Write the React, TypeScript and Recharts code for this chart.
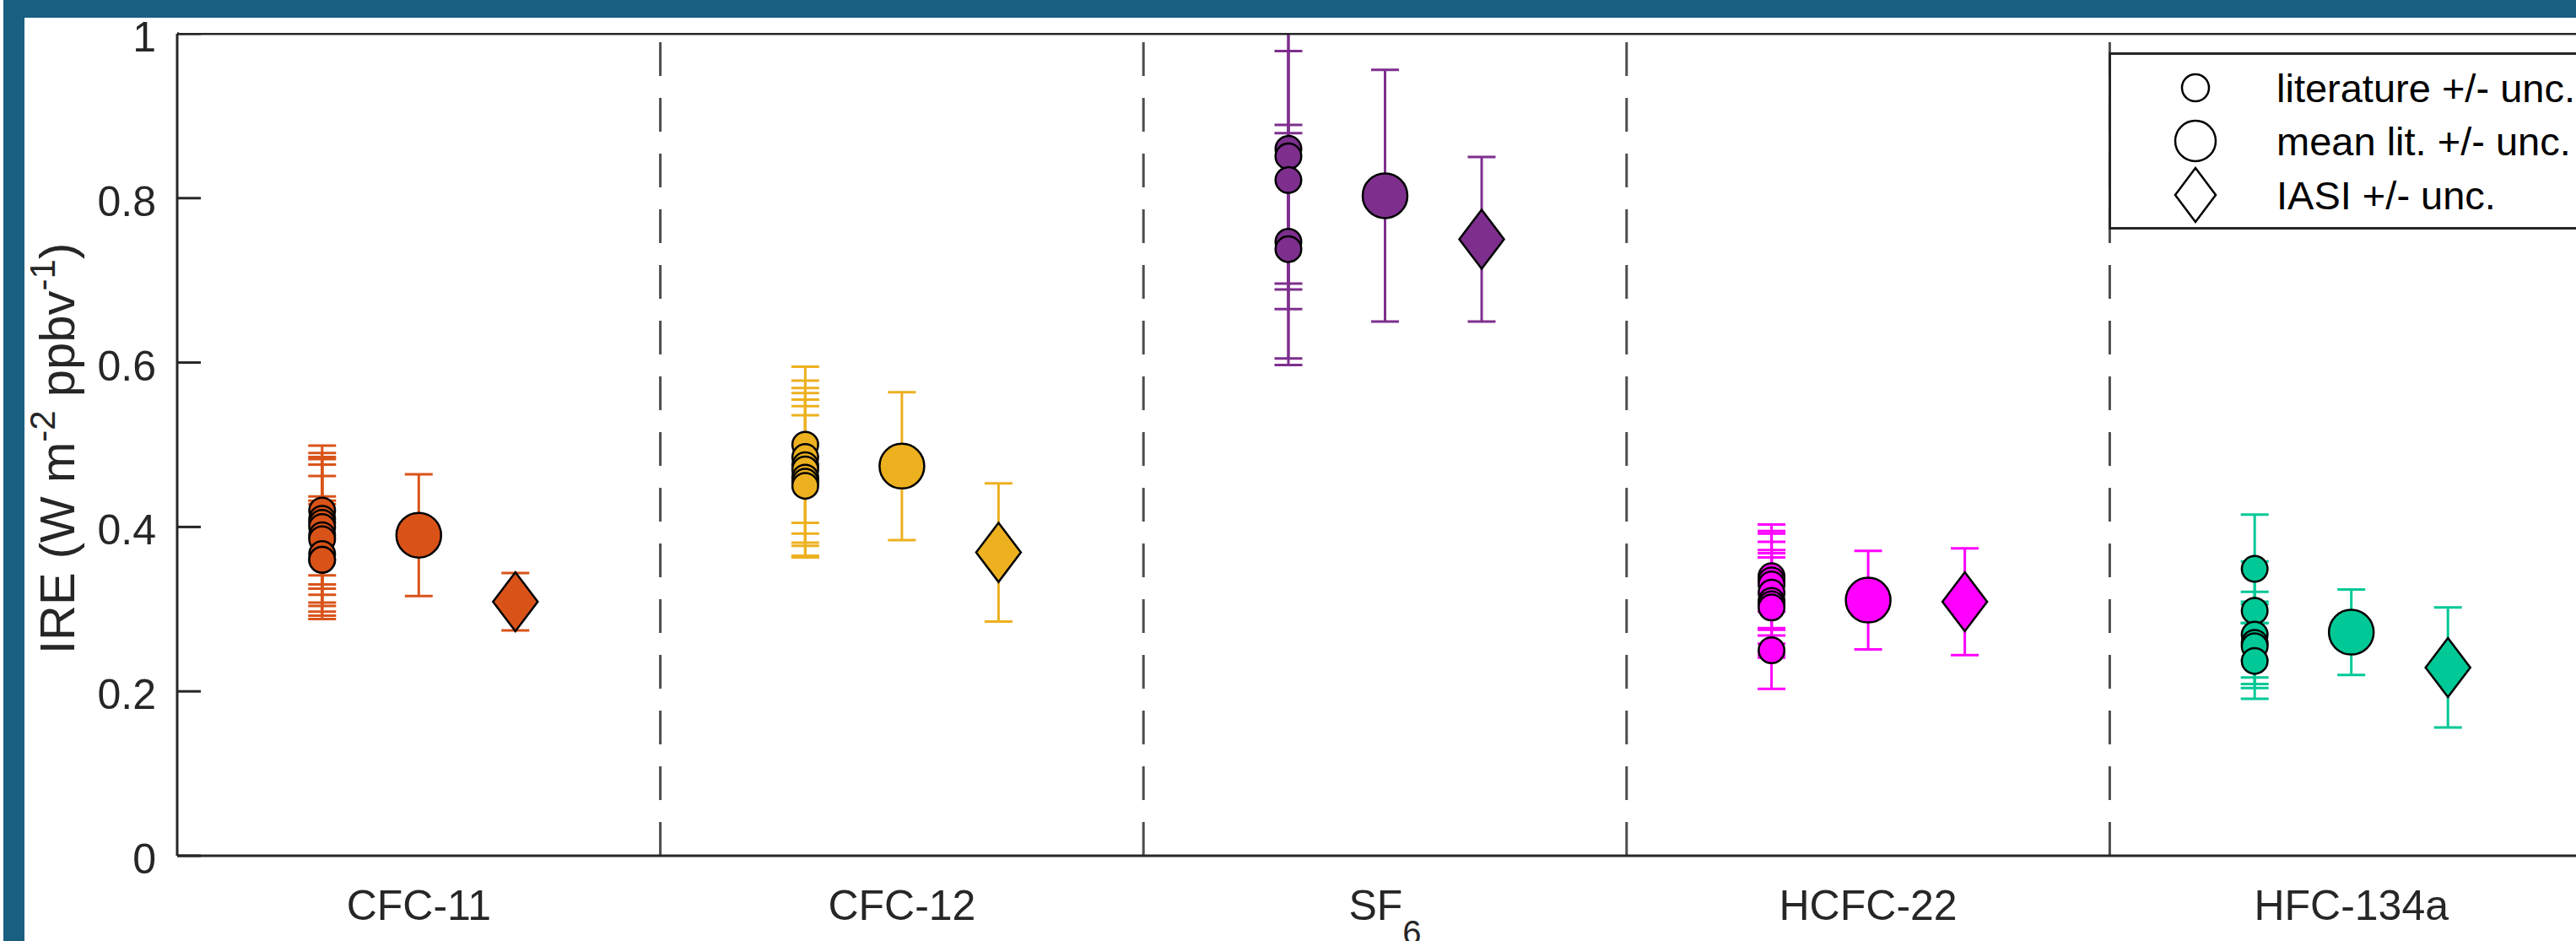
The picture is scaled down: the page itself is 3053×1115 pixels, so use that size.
import React from 'react';
import { ScatterChart, Scatter, XAxis, YAxis, ErrorBar, ReferenceLine, Legend } from 'recharts';

// gases on the x axis ("_" marks a subscript)
const gasLabels = ['CFC-11', 'CFC-12', 'SF_6', 'HCFC-22', 'HFC-134a'];
const gasPositions = [1, 2, 3, 4, 5];
const gasColors = ['#D95319', '#EDB120', '#7E2F8E', '#FF00FF', '#00C896'];

// individual literature values and their uncertainties
const litValues = [
  [0.42, 0.41, 0.405, 0.4, 0.39, 0.385, 0.367, 0.36, 0.36],
  [0.5, 0.485, 0.475, 0.47, 0.46, 0.455, 0.45],
  [0.86, 0.851, 0.822, 0.747, 0.738],
  [0.34, 0.335, 0.33, 0.32, 0.31, 0.306, 0.302, 0.25],
  [0.349, 0.298, 0.269, 0.259, 0.255, 0.237],
];
const litUnc = [
  [0.079, 0.08, 0.08, 0.0825, 0.086, 0.077, 0.07, 0.072, 0.068],
  [0.095, 0.093, 0.094, 0.093, 0.095, 0.092, 0.086],
  [0.164, 0.162, 0.157, 0.142, 0.141],
  [0.063, 0.06, 0.062, 0.062, 0.062, 0.062, 0.061, 0.047],
  [0.066, 0.06, 0.052, 0.05, 0.051, 0.046],
];

// mean of literature
const meanValues = [0.39, 0.474, 0.803, 0.311, 0.272];
const meanUnc = [0.074, 0.09, 0.153, 0.06, 0.052];

// IASI estimates
const iasiValues = [0.309, 0.369, 0.75, 0.309, 0.229];
const iasiUnc = [0.035, 0.084, 0.1, 0.065, 0.073];

const yTicks = [0, 0.2, 0.4, 0.6, 0.8, 1];
const separators = [1.5, 2.5, 3.5, 4.5];
const legendLabels = ['literature +/- unc.', 'mean lit. +/- unc.', 'IASI +/- unc.'];

const LIT_SHIFT = -0.2;
const IASI_SHIFT = 0.2;

const FONT = '"Liberation Sans", Arial, Helvetica, sans-serif';
const AXIS = '#262626';
const BLUE = '#185f82';

const litSeries = gasPositions.map((g, i) =>
  litValues[i].map((v, j) => ({ x: g + LIT_SHIFT, y: v, err: litUnc[i][j] }))
);
const meanSeries = gasPositions.map((g, i) => [{ x: g, y: meanValues[i], err: meanUnc[i] }]);
const iasiSeries = gasPositions.map((g, i) => [{ x: g + IASI_SHIFT, y: iasiValues[i], err: iasiUnc[i] }]);

const circleShape = (r: number, fill: string) => (p: any) =>
  <circle cx={p.cx} cy={p.cy} r={r} fill={fill} stroke="#000" strokeWidth={2.5} />;

const diamondShape = (hw: number, hh: number, fill: string) => (p: any) => (
  <path
    d={`M${p.cx},${p.cy - hh}L${p.cx + hw},${p.cy}L${p.cx},${p.cy + hh}L${p.cx - hw},${p.cy}Z`}
    fill={fill}
    stroke="#000"
    strokeWidth={2.5}
  />
);

function YTickLeft(props: any) {
  const { x, y, payload } = props;
  const axisX = x + 25;
  return (
    <g>
      <line x1={axisX} x2={axisX + 28} y1={y} y2={y} stroke={AXIS} strokeWidth={3} />
      <text x={x} y={y} dy={21} textAnchor="end" fontFamily={FONT} fontSize={50} fill={AXIS}>
        {payload.value}
      </text>
    </g>
  );
}

function YTickRight(props: any) {
  const { x, y } = props;
  return <line x1={x} x2={x - 28} y1={y} y2={y} stroke={AXIS} strokeWidth={3} />;
}

function XTick(props: any) {
  const { x, y, payload } = props;
  const label = gasLabels[gasPositions.indexOf(payload.value)] || '';
  const [main, sub] = label.split('_');
  return (
    <text x={x} y={y} dy={76} textAnchor="middle" fontFamily={FONT} fontSize={50} fill={AXIS}>
      {main}
      {sub && (
        <tspan dy={29} fontSize={40}>
          {sub}
        </tspan>
      )}
    </text>
  );
}

function YTitle(props: any) {
  const vb = props.viewBox || { x: 0, y: 40, width: 210, height: 974 };
  const tx = vb.x + 88;
  const ty = vb.y + vb.height - 239;
  return (
    <text
      transform={`translate(${tx},${ty}) rotate(-90)`}
      textAnchor="start"
      fontFamily={FONT}
      fontSize={58}
      fill={AXIS}
    >
      IRE (W m
      <tspan dy={-23} fontSize={42}>-2</tspan>
      <tspan dy={23}> ppbv</tspan>
      <tspan dy={-23} fontSize={42}>-1</tspan>
      <tspan dy={23}>)</tspan>
    </text>
  );
}

function LegendBox() {
  const rows = [42, 105, 169];
  return (
    <svg width={600} height={212} style={{ display: 'block' }}>
      <rect x={1.5} y={1.5} width={595} height={207} fill="#fff" stroke={AXIS} strokeWidth={3} />
      <circle cx={103} cy={rows[0]} r={16} fill="none" stroke="#000" strokeWidth={2.5} />
      <circle cx={103} cy={rows[1]} r={24} fill="none" stroke="#000" strokeWidth={2.5} />
      <path
        d={`M103,${rows[2] - 32}L127,${rows[2]}L103,${rows[2] + 32}L79,${rows[2]}Z`}
        fill="none"
        stroke="#000"
        strokeWidth={2.5}
      />
      {legendLabels.map((t, i) => (
        <text key={t} x={199} y={rows[i]} dy={17} fontFamily={FONT} fontSize={47} fill="#000">
          {t}
        </text>
      ))}
    </svg>
  );
}

export default function App() {
  return (
    <div
      style={{
        position: 'absolute',
        left: 0,
        top: 0,
        width: 3053,
        height: 1115,
        overflow: 'hidden',
        background: '#fff',
      }}
    >
      <ScatterChart width={3100} height={1115} margin={{ top: 0, right: 0, bottom: 0, left: 0 }}>
        <XAxis
          dataKey="x"
          type="number"
          domain={[0.5, 5.5]}
          ticks={gasPositions}
          interval={0}
          allowDataOverflow
          height={101}
          tickLine={false}
          tickSize={0}
          tickMargin={0}
          axisLine={{ stroke: AXIS, strokeWidth: 3 }}
          tick={(p: any) => <XTick {...p} />}
        />
        <XAxis
          xAxisId="top"
          orientation="top"
          type="number"
          domain={[0.5, 5.5]}
          height={40}
          tick={false}
          tickLine={false}
          axisLine={{ stroke: AXIS, strokeWidth: 3 }}
        />
        <YAxis
          dataKey="y"
          type="number"
          domain={[0, 1]}
          ticks={yTicks}
          interval={0}
          allowDataOverflow
          width={210}
          tickLine={false}
          tickSize={0}
          tickMargin={25}
          axisLine={{ stroke: AXIS, strokeWidth: 3 }}
          tick={(p: any) => <YTickLeft {...p} />}
          label={{ content: YTitle }}
        />
        <YAxis
          yAxisId="right"
          orientation="right"
          type="number"
          domain={[0, 1]}
          ticks={yTicks}
          interval={0}
          width={27}
          tickLine={false}
          tickSize={0}
          tickMargin={0}
          axisLine={{ stroke: AXIS, strokeWidth: 3 }}
          tick={(p: any) => <YTickRight {...p} />}
        />
        {separators.map((s) => (
          <ReferenceLine key={s} x={s} stroke="#4d4d4d" strokeWidth={3} strokeDasharray="40 26" />
        ))}
        {gasPositions.map((g, i) => [
          <Scatter
            key={`lit-${g}`}
            data={litSeries[i]}
            isAnimationActive={false}
            shape={circleShape(15.25, gasColors[i])}
          >
            <ErrorBar dataKey="err" direction="y" width={16.5} stroke={gasColors[i]} strokeWidth={3} isAnimationActive={false} />
          </Scatter>,
          <Scatter
            key={`mean-${g}`}
            data={meanSeries[i]}
            isAnimationActive={false}
            shape={circleShape(26.5, gasColors[i])}
          >
            <ErrorBar dataKey="err" direction="y" width={16.5} stroke={gasColors[i]} strokeWidth={3} isAnimationActive={false} />
          </Scatter>,
          <Scatter
            key={`iasi-${g}`}
            data={iasiSeries[i]}
            isAnimationActive={false}
            shape={diamondShape(26.5, 35, gasColors[i])}
          >
            <ErrorBar dataKey="err" direction="y" width={16.5} stroke={gasColors[i]} strokeWidth={3} isAnimationActive={false} />
          </Scatter>,
        ])}
        <Legend
          layout="vertical"
          align="center"
          verticalAlign="middle"
          wrapperStyle={{ left: 2498.5, top: 61.5, width: 600, height: 212 }}
          content={() => <LegendBox />}
        />
      </ScatterChart>
      {/* error bars above the y limit are cut at the top axis */}
      <div style={{ position: 'absolute', left: 212, top: 21, width: 2841, height: 17.5, background: '#fff' }} />
      <div style={{ position: 'absolute', left: 4, top: 0, width: 3049, height: 21, background: BLUE }} />
      <div style={{ position: 'absolute', left: 4, top: 0, width: 25, height: 1115, background: BLUE }} />
    </div>
  );
}
